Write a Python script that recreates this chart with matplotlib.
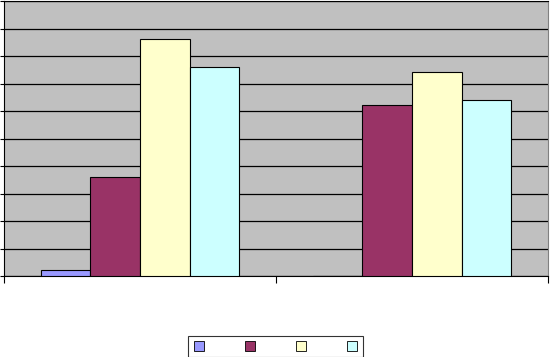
import matplotlib.pyplot as plt
import numpy as np
from matplotlib.lines import Line2D

categories = ['', '']
series_a = [0.22, 0.0]
series_b = [3.6, 6.22]
series_c = [8.62, 7.42]
series_d = [7.6, 6.4]
colors = ['#9999FF', '#993366', '#FFFFCC', '#CCFFFF']

fig = plt.figure(figsize=(5.5, 3.57), dpi=100)
ax = fig.add_axes([4/550, 81/357, 544/550, 275/357])
ax.set_facecolor('#C0C0C0')

x = np.arange(len(categories))
w = 0.182
for i, vals in enumerate([series_a, series_b, series_c, series_d]):
    ax.bar(x + (i - 1.5) * w, vals, w, color=colors[i], edgecolor='black',
           linewidth=0.8, zorder=3)

ax.set_xlim(-0.5, 1.5)
ax.set_ylim(0, 10)
ax.set_yticks(np.arange(0, 11, 1))
ax.set_xticks([-0.5, 0.5, 1.5])
ax.set_yticklabels([])
ax.set_xticklabels([])
ax.tick_params(axis='y', direction='out', length=3, width=0.8)
ax.tick_params(axis='x', direction='out', length=5, width=0.8)
ax.grid(axis='y', color='black', linewidth=0.9, zorder=1)
ax.spines['right'].set_color('#808080')
ax.spines['top'].set_color('black')

handles = [Line2D([], [], marker='s', linestyle='none', markersize=7,
                  markerfacecolor=c, markeredgecolor='black', markeredgewidth=0.6)
           for c in colors]
leg = fig.legend(handles, ['', '', '', ''], loc='center', ncol=4,
                 bbox_to_anchor=(0.501, 0.029), frameon=True, fancybox=False,
                 edgecolor='black', handlelength=1.0, columnspacing=3.6,
                 handletextpad=0.0, borderpad=0.5, borderaxespad=0,
                 fontsize=8)
leg.get_frame().set_linewidth(0.8)

fig.savefig('out.png', dpi=100)
